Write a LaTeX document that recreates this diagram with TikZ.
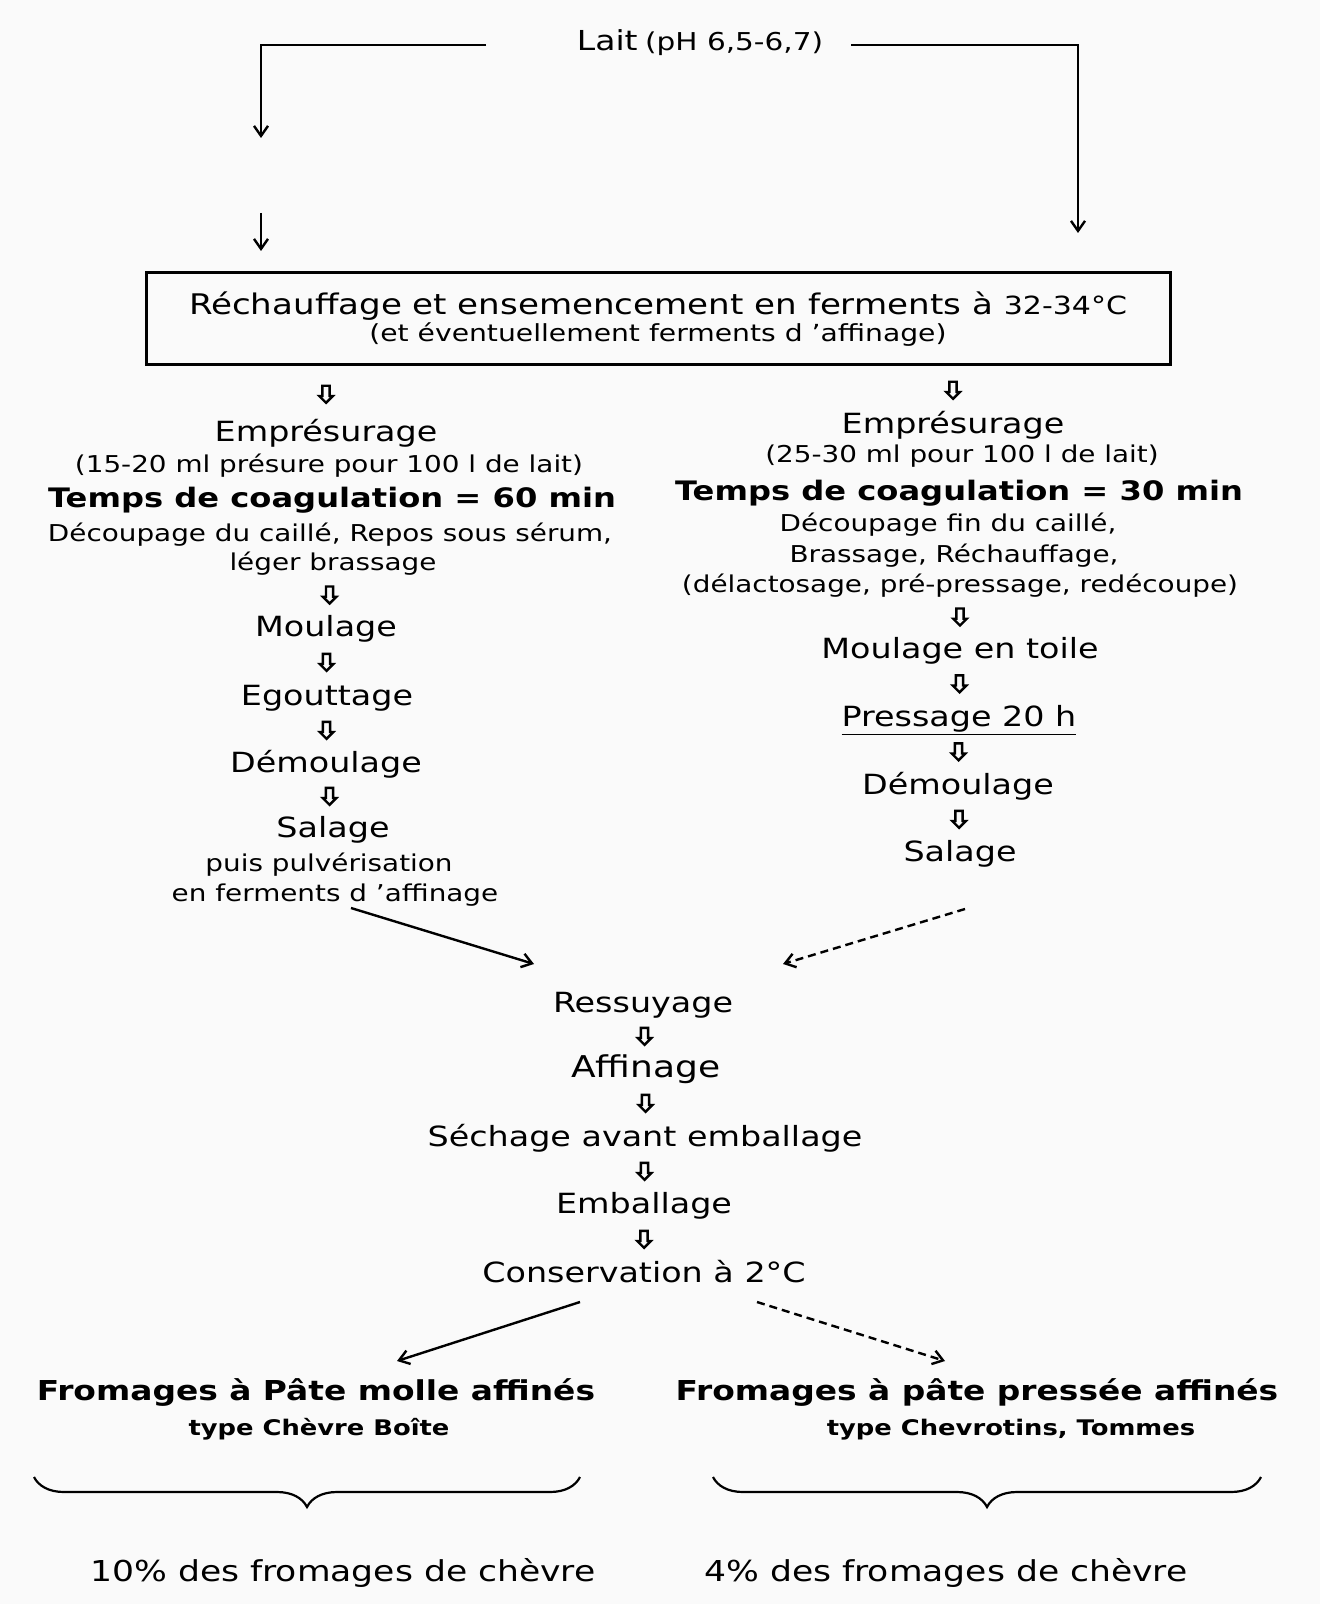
\documentclass[tikz,border=0pt]{standalone}
\usepackage{fontspec}
\setmainfont[FakeStretch=1.2]{DejaVu Sans}
\usetikzlibrary{arrows.meta,shapes.arrows,decorations.pathreplacing}
\begin{document}
\begin{tikzpicture}[x=0.5pt,y=-0.5pt,
  base/.style={inner sep=1pt, text depth=0pt, anchor=center},
  stepx/.style={base, font=\fontsize{13.9}{16}\selectfont, text height=10.1pt},
  subx/.style={base, font=\fontsize{11.6}{14}\selectfont, text height=8.5pt},
  bldx/.style={base, font=\bfseries\fontsize{13.4}{16}\selectfont, text height=9.8pt},
  bigb/.style={base, font=\bfseries\fontsize{13.7}{16}\selectfont, text height=10pt},
  smb/.style={base, font=\bfseries\fontsize{10.75}{13}\selectfont, text height=7.9pt},
  pct/.style={base, font=\fontsize{14.4}{17}\selectfont, text height=10.5pt},
  darr/.style={single arrow, draw, line width=1.2pt, shape border rotate=270,
    minimum height=8.5pt, inner sep=1.2pt, single arrow head extend=1.6pt},
  conn/.style={line width=1.2pt, -{Straight Barb[length=5pt,width=7pt]}},
  dconn/.style={conn, dash pattern=on 4pt off 2.5pt},
  boxx/.style={draw, line width=1.5pt, minimum width=512pt, minimum height=46pt,
    align=center, inner sep=0pt},
  bracex/.style={decorate, decoration={brace, mirror, amplitude=15pt}, line width=1.1pt}
]
\fill[black!2] (0,0) rectangle (1320,1604);
\useasboundingbox (0,0) rectangle (1320,1604);

% top
\node[base, text height=10pt] (lait) at (700,41)
  {{\fontsize{13.75}{16}\selectfont Lait} {\fontsize{12.3}{14}\selectfont(pH 6,5-6,7)}};
\coordinate (tl1) at (486,45);
\coordinate (tl2) at (261,138);
\coordinate (tl3) at (261,213);
\coordinate (tl4) at (261,251);
\coordinate (tr1) at (851,45);
\coordinate (tr2) at (1078,233);
\draw[conn] (tl1) -| (tl2);
\draw[conn] (tl3) -- (tl4);
\draw[conn] (tr1) -| (tr2);

\node[boxx] (box) at (658,319)
  {\fontsize{14.2}{16}\selectfont R\'echauffage et ensemencement en ferments \`a {\fontsize{12.5}{16}\selectfont 32-34°C}\\
   \fontsize{11.75}{16}\selectfont (et \'eventuellement ferments d 'affinage)};

% left column
\node[stepx] (eL1) at (326,431) {Emprésurage};
\node[subx]  (eL2) at (329,464) {(15-20 ml présure pour 100 l de lait)};
\node[bldx]  (eL3) at (332,498) {Temps de coagulation = 60 min};
\node[subx]  (eL4) at (330,533) {Découpage du caillé, Repos sous sérum,};
\node[subx]  (eL5) at (333,562) {léger brassage};
\node[stepx] (mL) at (326,626) {Moulage};
\node[stepx] (gL) at (327,695) {Egouttage};
\node[stepx] (dL) at (326,762) {Démoulage};
\node[stepx] (sL1) at (333,827) {Salage};
\node[subx]  (sL2) at (329,863) {puis pulvérisation};
\node[subx]  (sL3) at (335,893) {en ferments d 'affinage};

\path (box.south -| eL1) -- node[darr]{} (eL1);
\path (eL5) -- node[darr]{} (mL);
\path (mL) -- node[darr]{} (gL);
\path (gL) -- node[darr]{} (dL);
\path (dL) -- node[darr]{} (sL1);

% right column
\node[stepx] (eR1) at (953,423) {Emprésurage};
\node[subx]  (eR2) at (962,454) {(25-30 ml pour 100 l de lait)};
\node[bldx]  (eR3) at (959,491) {Temps de coagulation = 30 min};
\node[subx]  (eR4) at (948,523) {Découpage fin du caillé,};
\node[subx]  (eR5) at (954,554) {Brassage, Réchauffage,};
\node[subx]  (eR6) at (960,584) {(délactosage, pré-pressage, redécoupe)};
\node[stepx] (mR) at (960,648) {Moulage en toile};
\node[stepx] (pR) at (959,716) {\underline{Pressage 20 h}};
\node[stepx] (dR) at (958,784) {Démoulage};
\node[stepx] (sR) at (960,851) {Salage};

\path (box.south -| eR1) -- node[darr]{} (eR1);
\path (eR6) -- node[darr]{} (mR);
\path (mR) -- node[darr]{} (pR);
\path (pR) -- node[darr]{} (dR);
\path (dR) -- node[darr]{} (sR);

% centre column
\node[stepx] (rC) at (643,1002) {Ressuyage};
\node[stepx, font=\fontsize{15}{17}\selectfont] (aC) at (646,1067) {Affinage};
\node[stepx] (sC) at (645,1136) {Séchage avant emballage};
\node[stepx] (emC) at (644,1203) {Emballage};
\node[stepx] (cC) at (644,1272) {Conservation à 2°C};

\path (rC) -- node[darr]{} (aC);
\path (aC) -- node[darr]{} (sC);
\path (sC) -- node[darr]{} (emC);
\path (emC) -- node[darr]{} (cC);

% diagonal connectors
\coordinate (d1s) at (351,908);
\coordinate (d1e) at (534,964);
\coordinate (d2s) at (965,909);
\coordinate (d2e) at (783,964);
\coordinate (d3s) at (580,1302);
\coordinate (d3e) at (397,1361);
\coordinate (d4s) at (757,1302);
\coordinate (d4e) at (945,1361);
\draw[conn] (d1s) -- (d1e);
\draw[dconn] (d2s) -- (d2e);
\draw[conn] (d3s) -- (d3e);
\draw[dconn] (d4s) -- (d4e);

% bottom
\node[bigb] (fL1) at (316,1390) {Fromages à Pâte molle affinés};
\node[smb]  (fL2) at (319,1428) {type Chèvre Boîte};
\node[bigb] (fR1) at (977,1390) {Fromages à pâte pressée affinés};
\node[smb]  (fR2) at (1011,1428) {type Chevrotins, Tommes};

\coordinate (bL1) at (34,1477);
\coordinate (bL2) at (580,1477);
\coordinate (bR1) at (713,1477);
\coordinate (bR2) at (1261,1477);
\draw[bracex] (bL1) -- (bL2);
\draw[bracex] (bR1) -- (bR2);

\node[pct] (pL) at (343,1571) {10\% des fromages de chèvre};
\node[pct] (pRt) at (946,1571) {4\% des fromages de chèvre};
\end{tikzpicture}
\end{document}
